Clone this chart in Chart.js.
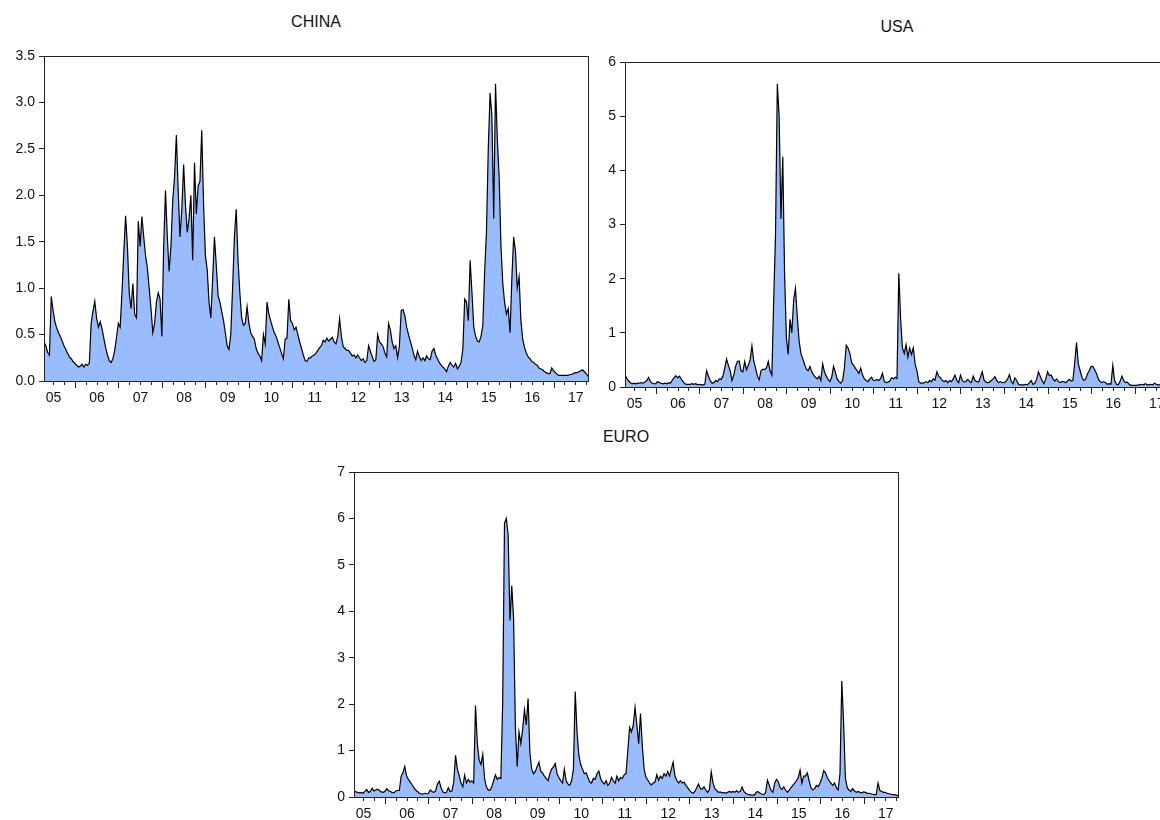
<!DOCTYPE html>
<html lang="en">
<head>
<meta charset="UTF-8">
<title>CHINA / USA / EURO</title>
<style>
    body {
        margin: 0;
        width: 1160px;
        height: 820px;
        overflow: hidden;
        position: relative;
        background: #fff;
        font-family: "Liberation Sans", Arial, sans-serif;
    }
    canvas { position: absolute; }
    .title {
        position: absolute;
        font-size: 16px;
        color: #111;
        white-space: nowrap;
        transform: translate(-50%, -50%);
    }
</style>
</head>
<body>
<div class="title" style="left:316px; top:22px">CHINA</div>
<div class="title" style="left:897px; top:27px">USA</div>
<div class="title" style="left:626px; top:437px">EURO</div>

<canvas id="china" width="600" height="420" style="left:0; top:0"></canvas>
<canvas id="usa" width="600" height="430" style="left:596px; top:0"></canvas>
<canvas id="euro" width="600" height="400" style="left:310px; top:420px"></canvas>

<script src="https://cdn.jsdelivr.net/npm/chart.js"></script>
<script>
// observations: semi-monthly readings, first one at about April 2005
const firstObs = 2005.28;
const obsPerYear = 24;
const yearLabels = ['05', '06', '07', '08', '09', '10', '11', '12', '13', '14', '15', '16', '17'];

const china = [
    0.42, 0.38, 0.31, 0.28, 0.91, 0.76, 0.64, 0.57, 0.52, 0.48, 0.43, 0.38, 0.34, 0.30, 0.26, 0.24, 0.21,
    0.19, 0.17, 0.15, 0.16, 0.18, 0.15, 0.18, 0.17, 0.19, 0.62, 0.75, 0.86, 0.68, 0.58, 0.64, 0.56, 0.46, 0.36, 0.28, 0.22, 0.20, 0.24, 0.33, 0.47,
    0.62, 0.58, 0.95, 1.38, 1.78, 1.45, 0.95, 0.78, 1.05, 0.72, 0.68, 1.72, 1.45, 1.77, 1.55, 1.35, 1.22, 1.00, 0.78, 0.52, 0.62, 0.85, 0.95, 0.88,
    0.48, 1.45, 2.05, 1.55, 1.18, 1.45, 1.95, 2.20, 2.65, 2.05, 1.55, 1.85, 2.33, 1.90, 1.60, 1.75, 2.00, 1.30, 2.35, 1.80, 2.10, 2.15, 2.70, 1.90,
    1.35, 1.20, 0.85, 0.68, 1.10, 1.55, 1.25, 0.92, 0.85, 0.75, 0.65, 0.52, 0.38, 0.34, 0.50, 1.00, 1.55, 1.85, 1.30, 0.95, 0.68, 0.60, 0.62, 0.80,
    0.62, 0.52, 0.48, 0.45, 0.35, 0.30, 0.27, 0.22, 0.50, 0.40, 0.85, 0.72, 0.65, 0.58, 0.52, 0.48, 0.42, 0.36, 0.30, 0.24, 0.45, 0.46, 0.88, 0.65,
    0.62, 0.55, 0.58, 0.50, 0.42, 0.35, 0.28, 0.22, 0.21, 0.25, 0.25, 0.27, 0.28, 0.30, 0.33, 0.36, 0.38, 0.44, 0.42, 0.46, 0.43, 0.45, 0.47, 0.42,
    0.40, 0.48, 0.67, 0.48, 0.37, 0.35, 0.33, 0.33, 0.30, 0.27, 0.28, 0.25, 0.28, 0.25, 0.22, 0.24, 0.20, 0.22, 0.38, 0.32, 0.26, 0.21, 0.23, 0.50,
    0.42, 0.40, 0.37, 0.30, 0.26, 0.62, 0.55, 0.42, 0.35, 0.38, 0.25, 0.38, 0.76, 0.77, 0.70, 0.58, 0.50, 0.43, 0.36, 0.28, 0.23, 0.32, 0.26, 0.22,
    0.25, 0.22, 0.27, 0.24, 0.23, 0.32, 0.35, 0.28, 0.24, 0.20, 0.17, 0.15, 0.13, 0.10, 0.16, 0.20, 0.17, 0.15, 0.19, 0.13, 0.16, 0.20, 0.35, 0.88,
    0.85, 0.65, 1.30, 0.95, 0.58, 0.48, 0.43, 0.42, 0.48, 0.60, 1.18, 1.60, 2.50, 3.10, 2.85, 1.75, 3.20, 2.60, 2.20, 1.45, 1.05, 0.85, 0.72, 0.78,
    0.52, 1.10, 1.55, 1.40, 1.00, 1.12, 0.65, 0.45, 0.36, 0.30, 0.26, 0.24, 0.21, 0.20, 0.18, 0.17, 0.14, 0.13, 0.12, 0.10, 0.09, 0.08, 0.08, 0.14,
    0.11, 0.09, 0.07, 0.06, 0.06, 0.06, 0.06, 0.06, 0.06, 0.07, 0.07, 0.08, 0.09, 0.09, 0.10, 0.11, 0.12, 0.10, 0.08, 0.05
];

const usa = [
    0.22, 0.16, 0.11, 0.08, 0.06, 0.07, 0.06, 0.07, 0.07, 0.08, 0.07, 0.09, 0.12, 0.18, 0.10, 0.07, 0.06,
    0.06, 0.10, 0.08, 0.07, 0.06, 0.07, 0.06, 0.08, 0.07, 0.12, 0.17, 0.21, 0.17, 0.20, 0.15, 0.10, 0.06, 0.05, 0.05, 0.05, 0.06, 0.05, 0.06, 0.04,
    0.05, 0.04, 0.04, 0.05, 0.30, 0.20, 0.12, 0.07, 0.08, 0.12, 0.10, 0.15, 0.14, 0.20, 0.35, 0.52, 0.40, 0.30, 0.12, 0.22, 0.38, 0.47, 0.48, 0.30,
    0.28, 0.47, 0.32, 0.40, 0.50, 0.76, 0.48, 0.35, 0.20, 0.13, 0.30, 0.33, 0.32, 0.35, 0.47, 0.30, 0.22, 1.60, 2.80, 5.60, 5.00, 3.10, 4.25, 2.10,
    0.90, 0.60, 1.25, 1.00, 1.60, 1.82, 1.30, 0.85, 0.62, 0.52, 0.42, 0.33, 0.30, 0.38, 0.28, 0.22, 0.18, 0.15, 0.20, 0.12, 0.43, 0.28, 0.20, 0.14,
    0.10, 0.18, 0.38, 0.27, 0.15, 0.10, 0.07, 0.12, 0.35, 0.77, 0.72, 0.62, 0.45, 0.40, 0.35, 0.30, 0.25, 0.35, 0.22, 0.15, 0.12, 0.10, 0.15, 0.18,
    0.12, 0.12, 0.14, 0.12, 0.16, 0.25, 0.10, 0.08, 0.09, 0.11, 0.17, 0.15, 0.18, 0.16, 2.10, 1.25, 0.72, 0.62, 0.78, 0.55, 0.72, 0.60, 0.72, 0.42,
    0.30, 0.10, 0.07, 0.07, 0.08, 0.10, 0.08, 0.12, 0.10, 0.15, 0.13, 0.28, 0.20, 0.17, 0.12, 0.10, 0.12, 0.08, 0.12, 0.10, 0.15, 0.22, 0.12, 0.08,
    0.22, 0.12, 0.09, 0.10, 0.14, 0.10, 0.08, 0.20, 0.12, 0.10, 0.09, 0.18, 0.28, 0.13, 0.09, 0.08, 0.09, 0.12, 0.15, 0.19, 0.12, 0.08, 0.10, 0.08,
    0.08, 0.10, 0.15, 0.23, 0.10, 0.06, 0.17, 0.12, 0.05, 0.04, 0.04, 0.04, 0.05, 0.04, 0.08, 0.12, 0.05, 0.07, 0.14, 0.28, 0.20, 0.12, 0.06, 0.14,
    0.28, 0.21, 0.22, 0.15, 0.11, 0.15, 0.10, 0.08, 0.10, 0.10, 0.08, 0.11, 0.14, 0.11, 0.12, 0.45, 0.82, 0.42, 0.30, 0.18, 0.12, 0.14, 0.24, 0.30,
    0.38, 0.38, 0.32, 0.25, 0.15, 0.10, 0.08, 0.10, 0.08, 0.05, 0.06, 0.05, 0.40, 0.12, 0.05, 0.04, 0.10, 0.20, 0.12, 0.08, 0.09, 0.05, 0.03, 0.03,
    0.03, 0.03, 0.04, 0.04, 0.05, 0.04, 0.06, 0.04, 0.04, 0.05, 0.04, 0.07, 0.05, 0.04, 0.04, 0.05, 0.04, 0.04, 0.03, 0.03
];

const euro = [
    0.14, 0.11, 0.10, 0.09, 0.10, 0.08, 0.12, 0.16, 0.10, 0.12, 0.19, 0.13, 0.15, 0.17, 0.14, 0.11, 0.10,
    0.12, 0.18, 0.14, 0.12, 0.10, 0.09, 0.13, 0.14, 0.14, 0.45, 0.52, 0.66, 0.45, 0.38, 0.32, 0.27, 0.20, 0.15, 0.12, 0.08, 0.07, 0.06, 0.08, 0.07,
    0.07, 0.15, 0.12, 0.10, 0.13, 0.28, 0.34, 0.20, 0.11, 0.09, 0.10, 0.20, 0.12, 0.13, 0.32, 0.90, 0.60, 0.46, 0.30, 0.22, 0.47, 0.30, 0.38, 0.32,
    0.35, 0.30, 1.97, 1.15, 0.80, 0.70, 0.92, 0.40, 0.22, 0.15, 0.15, 0.22, 0.35, 0.48, 0.38, 0.42, 0.40, 2.05, 5.90, 6.00, 5.65, 3.80, 4.55, 3.85,
    1.50, 0.65, 1.40, 1.15, 1.45, 1.88, 1.55, 2.12, 0.95, 0.60, 0.50, 0.55, 0.65, 0.75, 0.55, 0.52, 0.45, 0.40, 0.35, 0.50, 0.60, 0.65, 0.72, 0.50,
    0.42, 0.35, 0.30, 0.60, 0.35, 0.28, 0.25, 0.35, 0.60, 2.27, 1.40, 0.90, 0.70, 0.60, 0.50, 0.52, 0.42, 0.32, 0.30, 0.40, 0.38, 0.50, 0.56, 0.40,
    0.32, 0.28, 0.35, 0.25, 0.30, 0.42, 0.35, 0.30, 0.45, 0.35, 0.42, 0.40, 0.48, 0.50, 1.00, 1.50, 1.40, 1.55, 1.93, 1.55, 1.15, 1.80, 1.10, 0.60,
    0.42, 0.37, 0.30, 0.26, 0.30, 0.32, 0.48, 0.36, 0.45, 0.40, 0.50, 0.45, 0.55, 0.45, 0.60, 0.75, 0.45, 0.36, 0.30, 0.35, 0.30, 0.32, 0.25, 0.20,
    0.15, 0.10, 0.08, 0.12, 0.20, 0.28, 0.18, 0.17, 0.22, 0.15, 0.10, 0.16, 0.54, 0.30, 0.18, 0.14, 0.10, 0.11, 0.09, 0.10, 0.08, 0.10, 0.12, 0.10,
    0.12, 0.10, 0.14, 0.10, 0.12, 0.22, 0.12, 0.08, 0.06, 0.05, 0.04, 0.04, 0.05, 0.11, 0.11, 0.08, 0.06, 0.05, 0.10, 0.36, 0.25, 0.14, 0.10, 0.30,
    0.38, 0.33, 0.20, 0.16, 0.22, 0.15, 0.10, 0.15, 0.20, 0.25, 0.30, 0.35, 0.42, 0.58, 0.30, 0.45, 0.45, 0.52, 0.35, 0.20, 0.15, 0.18, 0.25, 0.22,
    0.30, 0.40, 0.57, 0.52, 0.42, 0.35, 0.30, 0.25, 0.30, 0.20, 0.15, 0.50, 2.50, 1.60, 0.40, 0.20, 0.15, 0.12, 0.18, 0.13, 0.10, 0.12, 0.10, 0.09,
    0.11, 0.10, 0.08, 0.08, 0.07, 0.06, 0.05, 0.05, 0.30, 0.14, 0.12, 0.10, 0.10, 0.08, 0.07, 0.06, 0.05, 0.05, 0.04, 0.03
];

const lastObs = firstObs + (china.length - 1) / obsPerYear;
const firstYear = 2005;

// quarter ticks inside the sample; year labels sit on the mid-year tick
const quarterTicks = [];
yearLabels.forEach((lab, i) => {
    for (let q = 0; q < 4; q++) {
        const v = firstYear + i + q / 4;
        if (v >= firstObs && v <= lastObs) quarterTicks.push(v);
    }
});

const tickFont = { family: '"Liberation Sans", Arial, sans-serif', size: 14 };

const framePlugin = {
    id: 'frame',
    afterDatasetsDraw(chart) {
        const a = chart.chartArea;
        const ctx = chart.ctx;
        ctx.save();
        ctx.strokeStyle = '#222';
        ctx.lineWidth = 1;
        ctx.strokeRect(Math.round(a.left) + 0.5, Math.round(a.top) + 0.5,
                       Math.round(a.right - a.left), Math.round(a.bottom - a.top));
        ctx.restore();
    }
};

function drawPanel(id, values, yMax, yStep, yDigits, box) {
    const points = values.map((v, i) => ({ x: firstObs + i / obsPerYear, y: v }));
    new Chart(document.getElementById(id), {
        type: 'line',
        data: {
            datasets: [{
                data: points,
                borderColor: '#000',
                borderWidth: 1.2,
                backgroundColor: 'rgb(153, 188, 255)',
                fill: 'origin',
                pointRadius: 0,
                tension: 0
            }]
        },
        options: {
            responsive: false,
            animation: false,
            devicePixelRatio: 1,
            layout: { padding: { top: box.top, right: box.right, left: 0, bottom: 0 } },
            plugins: { legend: { display: false }, tooltip: { enabled: false } },
            scales: {
                x: {
                    type: 'linear',
                    min: firstObs,
                    max: lastObs,
                    border: { display: false },
                    grid: {
                        drawOnChartArea: false,
                        tickLength: 7,
                        tickColor: '#222',
                        tickBorderDash: (c) => Number.isInteger(c.tick.value) ? [] : [4, 20]
                    },
                    ticks: {
                        autoSkip: false,
                        maxRotation: 0,
                        padding: 2,
                        color: '#111',
                        font: tickFont,
                        callback: (v) => {
                            const y = Math.floor(v);
                            return (v - y === 0.5) ? yearLabels[y - firstYear] : '';
                        }
                    },
                    afterBuildTicks: (s) => { s.ticks = quarterTicks.map(v => ({ value: v })); },
                    afterFit: (s) => { s.height = box.xAxis; }
                },
                y: {
                    min: 0,
                    max: yMax,
                    border: { display: false },
                    grid: { drawOnChartArea: false, tickLength: 5, tickColor: '#222' },
                    ticks: {
                        stepSize: yStep,
                        padding: 4,
                        color: '#111',
                        font: tickFont,
                        callback: (v) => v.toFixed(yDigits)
                    },
                    afterFit: (s) => { s.width = box.yAxis; }
                }
            }
        },
        plugins: [framePlugin]
    });
}

drawPanel('china', china, 3.5, 0.5, 1, { top: 56, right: 12, yAxis: 44, xAxis: 39 });
drawPanel('usa', usa, 6, 1, 0, { top: 62, right: 27, yAxis: 29, xAxis: 43 });
drawPanel('euro', euro, 7, 1, 0, { top: 52, right: 12, yAxis: 44, xAxis: 23 });
</script>
</body>
</html>
